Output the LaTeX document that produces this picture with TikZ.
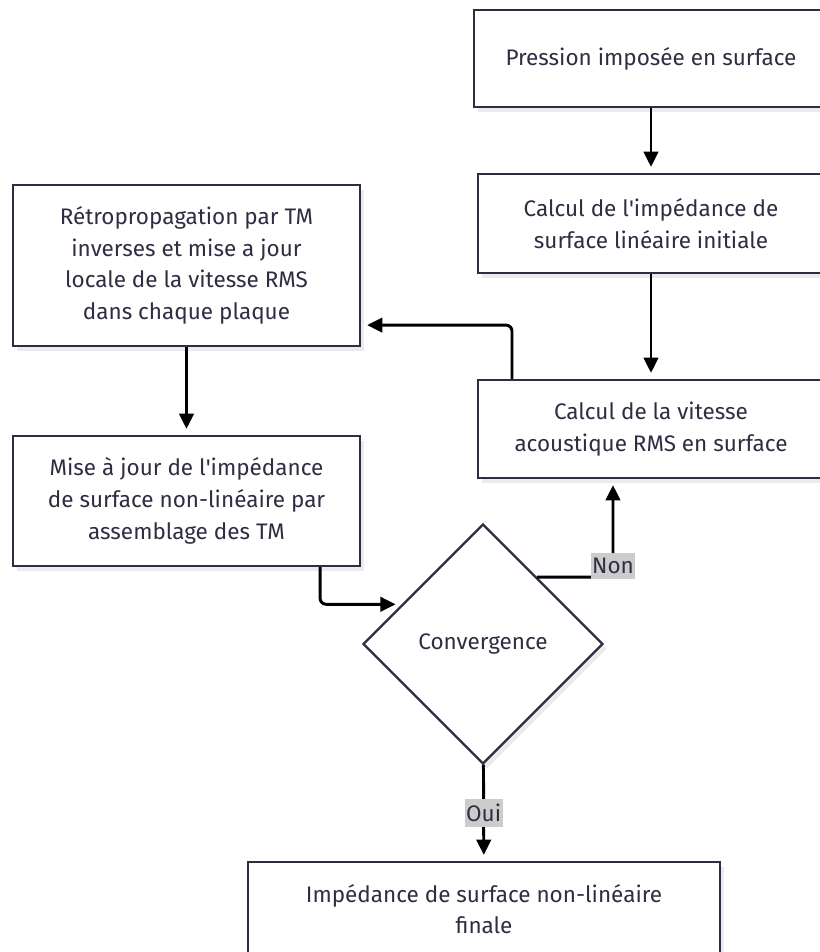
\documentclass[tikz,border=0pt]{standalone}
\usepackage{fontspec}
\setmainfont{Fira Sans}
\usepackage{tikz}
\usepackage{xcolor}
\usetikzlibrary{shapes.geometric,arrows.meta,shadows}
\definecolor{ink}{HTML}{2E2E42}
\definecolor{shadowgray}{HTML}{EBEBEB}
\definecolor{tagfill}{HTML}{CCCCCC}

\begin{document}
\begin{tikzpicture}[
  every node/.style={font=\fontsize{16}{22.5}\selectfont, text=ink},
  box/.style={draw=ink, line width=1.6pt, fill=white, align=center, inner sep=0pt,
    general shadow={fill=shadowgray, shadow xshift=0.1cm, shadow yshift=-0.12cm}},
  decision/.style={diamond, draw=ink, line width=1.6pt, fill=white, inner sep=0pt,
    minimum width=6cm, minimum height=6cm,
    general shadow={fill=shadowgray, shadow xshift=0.1cm, shadow yshift=-0.12cm}},
  flow/.style={line width=2.1pt, black, rounded corners=0.15cm, shorten >=0.15cm,
    -{Triangle[length=0.38cm,width=0.36cm]}},
  tag/.style={fill=tagfill, sharp corners, inner xsep=1pt, inner ysep=3.5pt,
    font=\fontsize{16}{18}\selectfont}
]
\useasboundingbox (0,0) rectangle (20.5,-23.8);
\node[box, minimum width=8.85cm, minimum height=2.425cm] (press) at (16.275,-1.4625) {Pression imposée en surface};
\node[box, minimum width=8.65cm, minimum height=2.475cm] (lin) at (16.275,-5.5875) {Calcul de l\textquotesingle impédance de\\surface linéaire initiale};
\node[box, minimum width=8.65cm, minimum height=2.45cm] (vit) at (16.275,-10.725) {Calcul de la vitesse\\acoustique RMS en surface};
\node[box, minimum width=8.675cm, minimum height=4.025cm] (retro) at (4.6625,-6.6375) {Rétropropagation par TM\\inverses et mise a jour\\locale de la vitesse RMS\\dans chaque plaque};
\node[box, minimum width=8.675cm, minimum height=3.25cm] (maj) at (4.6625,-12.525) {Mise à jour de l\textquotesingle impédance\\de surface non-linéaire par\\assemblage des TM};
\node[decision] (conv) at (12.075,-16.1) {Convergence};
\node[box, minimum width=11.8cm, minimum height=2.35cm] (fin) at (12.1,-22.725) {Impédance de surface non-linéaire\\finale};

\draw[flow] (press) -- (lin);
\draw[flow] (lin) -- (vit);
\draw[flow] ([xshift=-3.475cm]vit.north) |- ([yshift=-1.49cm]retro.east);
\draw[flow] (retro) -- (maj);
\draw[flow] ([xshift=3.34cm]maj.south) |- (conv.154);
\draw[flow] (conv.51.6) -| node[tag, pos=0.556] {Non} ([xshift=-0.95cm]vit.south);
\draw[flow] (conv) -- node[tag] {Oui} (fin);
\end{tikzpicture}
\end{document}
